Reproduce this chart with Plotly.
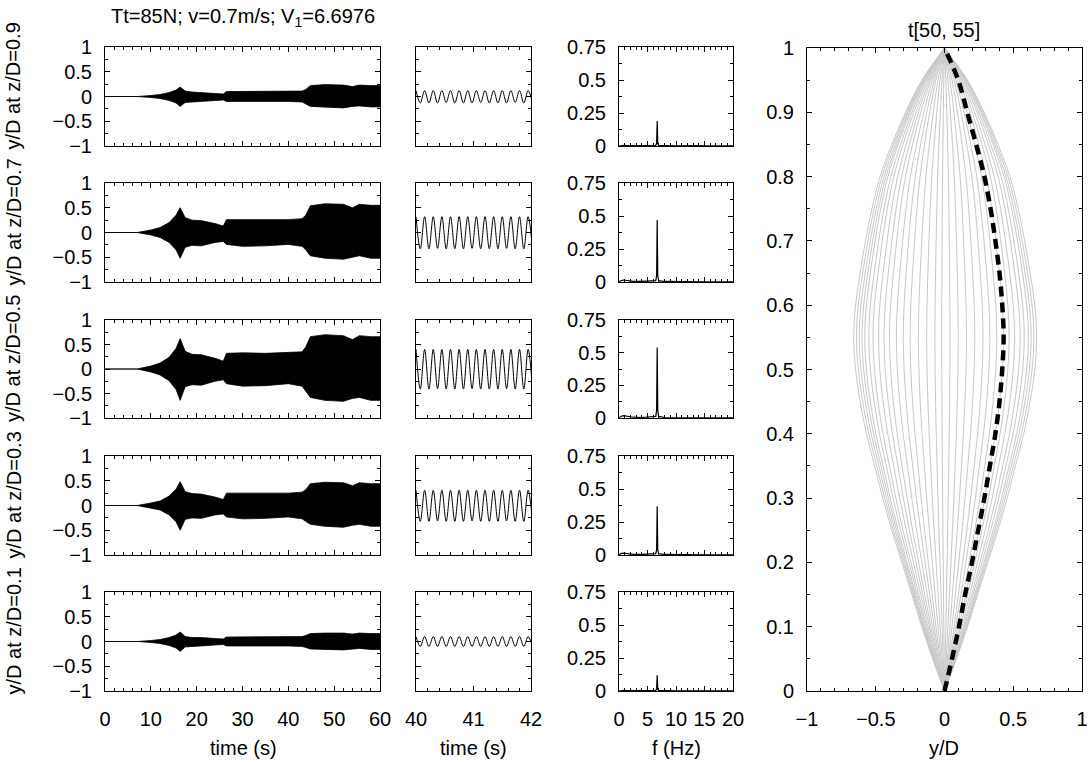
import plotly.graph_objects as go

W, H = 1090, 762
FONT = "Liberation Sans, Arial, sans-serif"
FS = 20

# ---------------------------------------------------------------- data
row_labels = ["y/D at z/D=0.9", "y/D at z/D=0.7", "y/D at z/D=0.5",
              "y/D at z/D=0.3", "y/D at z/D=0.1"]

# envelope of the full time history (s, y/D)
env_t = [0, 7, 10, 12, 14, 15.5, 16.4, 17.5, 19, 21, 24, 25.8, 26.5, 30, 35,
         40, 43, 43.8, 44.8, 48, 52, 54, 55.5, 58, 60]
env_upper = [
    [0, 0, 0.02, 0.04, 0.08, 0.13, 0.19, 0.11, 0.09, 0.08, 0.06, 0.05, 0.10, 0.10, 0.10,
     0.10, 0.11, 0.14, 0.22, 0.24, 0.23, 0.20, 0.23, 0.22, 0.22],
    [0, 0, 0.05, 0.10, 0.20, 0.35, 0.50, 0.30, 0.25, 0.24, 0.18, 0.13, 0.26, 0.26, 0.25,
     0.26, 0.28, 0.35, 0.54, 0.58, 0.57, 0.50, 0.57, 0.55, 0.55],
    [0, 0, 0.06, 0.12, 0.24, 0.42, 0.62, 0.36, 0.30, 0.29, 0.22, 0.16, 0.32, 0.33, 0.32,
     0.33, 0.35, 0.45, 0.66, 0.70, 0.68, 0.60, 0.68, 0.66, 0.66],
    [0, 0, 0.05, 0.09, 0.19, 0.33, 0.48, 0.28, 0.24, 0.23, 0.17, 0.12, 0.25, 0.25, 0.24,
     0.25, 0.27, 0.32, 0.44, 0.47, 0.46, 0.40, 0.46, 0.44, 0.44],
    [0, 0, 0.02, 0.04, 0.08, 0.13, 0.19, 0.10, 0.08, 0.08, 0.06, 0.05, 0.09, 0.09, 0.09,
     0.09, 0.10, 0.12, 0.16, 0.17, 0.17, 0.15, 0.17, 0.16, 0.16],
]
env_lower = [
    [0, 0, -0.02, -0.04, -0.08, -0.13, -0.20, -0.12, -0.10, -0.10, -0.08, -0.07, -0.10, -0.11, -0.10,
     -0.10, -0.11, -0.15, -0.20, -0.22, -0.23, -0.20, -0.19, -0.21, -0.21],
    [0, 0, -0.05, -0.10, -0.20, -0.35, -0.52, -0.30, -0.26, -0.27, -0.20, -0.18, -0.24, -0.28, -0.27,
     -0.24, -0.28, -0.35, -0.47, -0.52, -0.54, -0.50, -0.47, -0.52, -0.52],
    [0, 0, -0.06, -0.12, -0.24, -0.42, -0.64, -0.36, -0.32, -0.33, -0.25, -0.22, -0.30, -0.35, -0.34,
     -0.30, -0.35, -0.45, -0.58, -0.64, -0.66, -0.60, -0.58, -0.64, -0.64],
    [0, 0, -0.05, -0.09, -0.19, -0.33, -0.50, -0.28, -0.25, -0.26, -0.19, -0.17, -0.23, -0.27, -0.26,
     -0.23, -0.27, -0.32, -0.38, -0.42, -0.44, -0.40, -0.38, -0.42, -0.42],
    [0, 0, -0.02, -0.04, -0.08, -0.13, -0.20, -0.11, -0.09, -0.09, -0.07, -0.06, -0.09, -0.10, -0.09,
     -0.09, -0.10, -0.12, -0.15, -0.16, -0.17, -0.15, -0.14, -0.16, -0.16],
]

# crests and troughs of the 40-42 s window (s, y/D)
zoom_t = [40.00, 40.075, 40.15, 40.225, 40.30, 40.375, 40.45, 40.525, 40.60, 40.675,
          40.75, 40.825, 40.90, 40.975, 41.05, 41.125, 41.20, 41.275, 41.35, 41.425,
          41.50, 41.575, 41.65, 41.725, 41.80, 41.875, 41.95, 42.025]
zoom_y = [
    [0.12, -0.13, 0.12, -0.13, 0.12, -0.13, 0.12, -0.12, 0.12, -0.13, 0.12, -0.13, 0.12, -0.13,
     0.12, -0.12, 0.12, -0.13, 0.12, -0.13, 0.12, -0.13, 0.12, -0.12, 0.12, -0.13, 0.12, -0.13],
    [0.32, -0.33, 0.32, -0.33, 0.32, -0.32, 0.32, -0.33, 0.32, -0.33, 0.32, -0.33, 0.32, -0.32,
     0.32, -0.33, 0.32, -0.33, 0.32, -0.33, 0.32, -0.32, 0.32, -0.33, 0.32, -0.33, 0.32, -0.33],
    [0.40, -0.41, 0.40, -0.41, 0.40, -0.40, 0.40, -0.41, 0.40, -0.41, 0.40, -0.41, 0.40, -0.40,
     0.40, -0.41, 0.40, -0.41, 0.40, -0.41, 0.40, -0.40, 0.40, -0.41, 0.40, -0.41, 0.40, -0.41],
    [0.31, -0.32, 0.31, -0.32, 0.31, -0.31, 0.31, -0.32, 0.31, -0.32, 0.31, -0.32, 0.31, -0.31,
     0.31, -0.32, 0.31, -0.32, 0.31, -0.32, 0.31, -0.31, 0.31, -0.32, 0.31, -0.32, 0.31, -0.32],
    [0.10, -0.10, 0.10, -0.10, 0.10, -0.10, 0.10, -0.10, 0.10, -0.10, 0.10, -0.10, 0.10, -0.10,
     0.10, -0.10, 0.10, -0.10, 0.10, -0.10, 0.10, -0.10, 0.10, -0.10, 0.10, -0.10, 0.10, -0.10],
]

# amplitude spectra (Hz, amplitude)
spec_f = [0, 0.3, 0.8, 1.5, 2.5, 4, 5.5, 6.45, 6.6, 6.7, 6.8, 6.95, 8, 10, 13.4, 15, 20]
spec_a = [
    [0, 0.004, 0.005, 0.003, 0.002, 0.002, 0.003, 0.005, 0.02, 0.19, 0.02, 0.005, 0.002, 0.001, 0.003, 0.001, 0.001],
    [0, 0.010, 0.015, 0.010, 0.005, 0.004, 0.005, 0.010, 0.05, 0.47, 0.05, 0.010, 0.004, 0.002, 0.004, 0.002, 0.001],
    [0, 0.012, 0.018, 0.012, 0.006, 0.004, 0.006, 0.012, 0.06, 0.54, 0.06, 0.012, 0.004, 0.002, 0.004, 0.002, 0.001],
    [0, 0.010, 0.014, 0.010, 0.005, 0.004, 0.005, 0.010, 0.04, 0.37, 0.04, 0.010, 0.004, 0.002, 0.003, 0.002, 0.001],
    [0, 0.004, 0.005, 0.003, 0.002, 0.002, 0.003, 0.004, 0.015, 0.12, 0.015, 0.004, 0.002, 0.001, 0.002, 0.001, 0.001],
]

# riser shapes over t in [50, 55]
shape_z = [0, 0.05, 0.1, 0.15, 0.2, 0.25, 0.3, 0.35, 0.4, 0.45, 0.5,
           0.55, 0.6, 0.65, 0.7, 0.75, 0.8, 0.85, 0.9, 0.95, 1]
shape_norm = [0, 0.13, 0.25, 0.36, 0.47, 0.58, 0.68, 0.77, 0.86, 0.93, 0.98,
              1.0, 0.98, 0.93, 0.87, 0.8, 0.71, 0.58, 0.43, 0.25, 0]
snapshot_amp = [-0.66, -0.64, -0.62, -0.60, -0.58, -0.55, -0.52, -0.48, -0.44, -0.40,
                -0.35, -0.30, -0.25, -0.19, -0.13, -0.07, -0.02, 0.04, 0.10, 0.16,
                0.22, 0.28, 0.33, 0.38, 0.43, 0.47, 0.51, 0.55, 0.58, 0.61, 0.63, 0.65, 0.67]
mean_shape = [0, 0.055, 0.105, 0.15, 0.2, 0.245, 0.29, 0.33, 0.37, 0.40, 0.42,
              0.43, 0.42, 0.40, 0.37, 0.335, 0.29, 0.23, 0.165, 0.10, 0]

title_text = "Tt=85N; v=0.7m/s; V<sub>1</sub>=6.6976"
shape_title = "t[50, 55]"

# ---------------------------------------------------------------- layout (pixels)
cols = [(105, 380), (416, 531), (619, 733)]
rows = [(47, 146), (183, 282), (320, 418), (456, 555), (592, 691)]
big = ((807, 1082), (48, 691))


def xdom(a, b):
    return [a / W, b / W]


def ydom(top, bot):
    return [1 - bot / H, 1 - top / H]


fig = go.Figure()
layout = {}


def make_axis(domain, rng, dtick, minor, labels, anchor, tick0=0, standoff=None):
    ax = dict(domain=domain, range=rng, anchor=anchor, showline=True, linecolor="black",
              linewidth=1, mirror="allticks", ticks="inside", ticklen=5, tickwidth=1,
              tickcolor="black", tick0=tick0, dtick=dtick, showticklabels=labels,
              showgrid=False, zeroline=False, fixedrange=True, automargin=False,
              tickfont=dict(family=FONT, size=FS, color="black"),
              minor=dict(dtick=minor, tick0=tick0, ticks="inside", ticklen=3,
                         tickwidth=1, tickcolor="black", showgrid=False))
    if standoff is not None:
        ax["ticklabelstandoff"] = standoff
    return ax


k = 0
for r, (top, bot) in enumerate(rows):
    last = r == len(rows) - 1
    for c, (left, right) in enumerate(cols):
        k += 1
        sx = "" if k == 1 else str(k)
        xa, ya = "x" + sx, "y" + sx
        if c == 0:
            layout["xaxis" + sx] = make_axis(xdom(left, right), [0, 60], 10, 2, last, ya, standoff=10)
            layout["yaxis" + sx] = make_axis(ydom(top, bot), [-1, 1], 0.5, 0.25, True, xa, standoff=8)
            xs = env_t + env_t[::-1]
            ys = env_upper[r] + env_lower[r][::-1]
            fig.add_trace(go.Scatter(x=xs, y=ys, xaxis=xa, yaxis=ya, mode="lines",
                                     fill="toself", fillcolor="black",
                                     line=dict(color="black", width=0.8),
                                     hoverinfo="skip", showlegend=False))
        elif c == 1:
            layout["xaxis" + sx] = make_axis(xdom(left, right), [40, 42], 1, 0.2, last, ya, standoff=10)
            layout["yaxis" + sx] = make_axis(ydom(top, bot), [-1, 1], 0.5, 0.25, False, xa)
            fig.add_trace(go.Scatter(x=zoom_t, y=zoom_y[r], xaxis=xa, yaxis=ya, mode="lines",
                                     line=dict(color="black", width=1, shape="spline"),
                                     hoverinfo="skip", showlegend=False))
        else:
            layout["xaxis" + sx] = make_axis(xdom(left, right), [0, 20], 5, 1, last, ya, standoff=10)
            layout["yaxis" + sx] = make_axis(ydom(top, bot), [0, 0.75], 0.25, 0.125, True, xa, standoff=8)
            fig.add_trace(go.Scatter(x=spec_f, y=spec_a[r], xaxis=xa, yaxis=ya, mode="lines",
                                     line=dict(color="black", width=1.2),
                                     hoverinfo="skip", showlegend=False))

# riser shape panel
k += 1
sx = str(k)
xa, ya = "x" + sx, "y" + sx
layout["xaxis" + sx] = make_axis(xdom(*big[0]), [-1, 1], 0.5, 0.1, True, ya, tick0=-1, standoff=10)
layout["yaxis" + sx] = make_axis(ydom(*big[1]), [0, 1], 0.1, 0.05, True, xa, standoff=8)
for a in snapshot_amp:
    fig.add_trace(go.Scatter(x=[a * s for s in shape_norm], y=shape_z, xaxis=xa, yaxis=ya,
                             mode="lines", line=dict(color="#c8c8c8", width=1, shape="spline"),
                             hoverinfo="skip", showlegend=False))
fig.add_trace(go.Scatter(x=mean_shape, y=shape_z, xaxis=xa, yaxis=ya, mode="lines",
                         line=dict(color="black", width=4.5, dash="10px,6px", shape="spline"),
                         hoverinfo="skip", showlegend=False))

# ---------------------------------------------------------------- text
ann = []


def text(x, y, s, angle=0):
    ann.append(dict(x=x / W, y=1 - y / H, xref="paper", yref="paper", text=s,
                    showarrow=False, textangle=angle, xanchor="center", yanchor="middle",
                    font=dict(family=FONT, size=FS, color="black")))


for r, (top, bot) in enumerate(rows):
    text(13, (top + bot) / 2 - 10, row_labels[r], angle=-90)

text(243, 18, title_text)
text(944, 30, shape_title)
text(243, 748, "time (s)")
text(473, 748, "time (s)")
text(676, 748, "f (Hz)")
text(944, 748, "y/D")

layout.update(dict(width=W, height=H, margin=dict(l=0, r=0, t=0, b=0, autoexpand=False),
                   paper_bgcolor="white", plot_bgcolor="white",
                   font=dict(family=FONT, size=FS, color="black"),
                   annotations=ann, showlegend=False))
fig.update_layout(**layout)
fig.write_html("out.html", config={"displayModeBar": False})
